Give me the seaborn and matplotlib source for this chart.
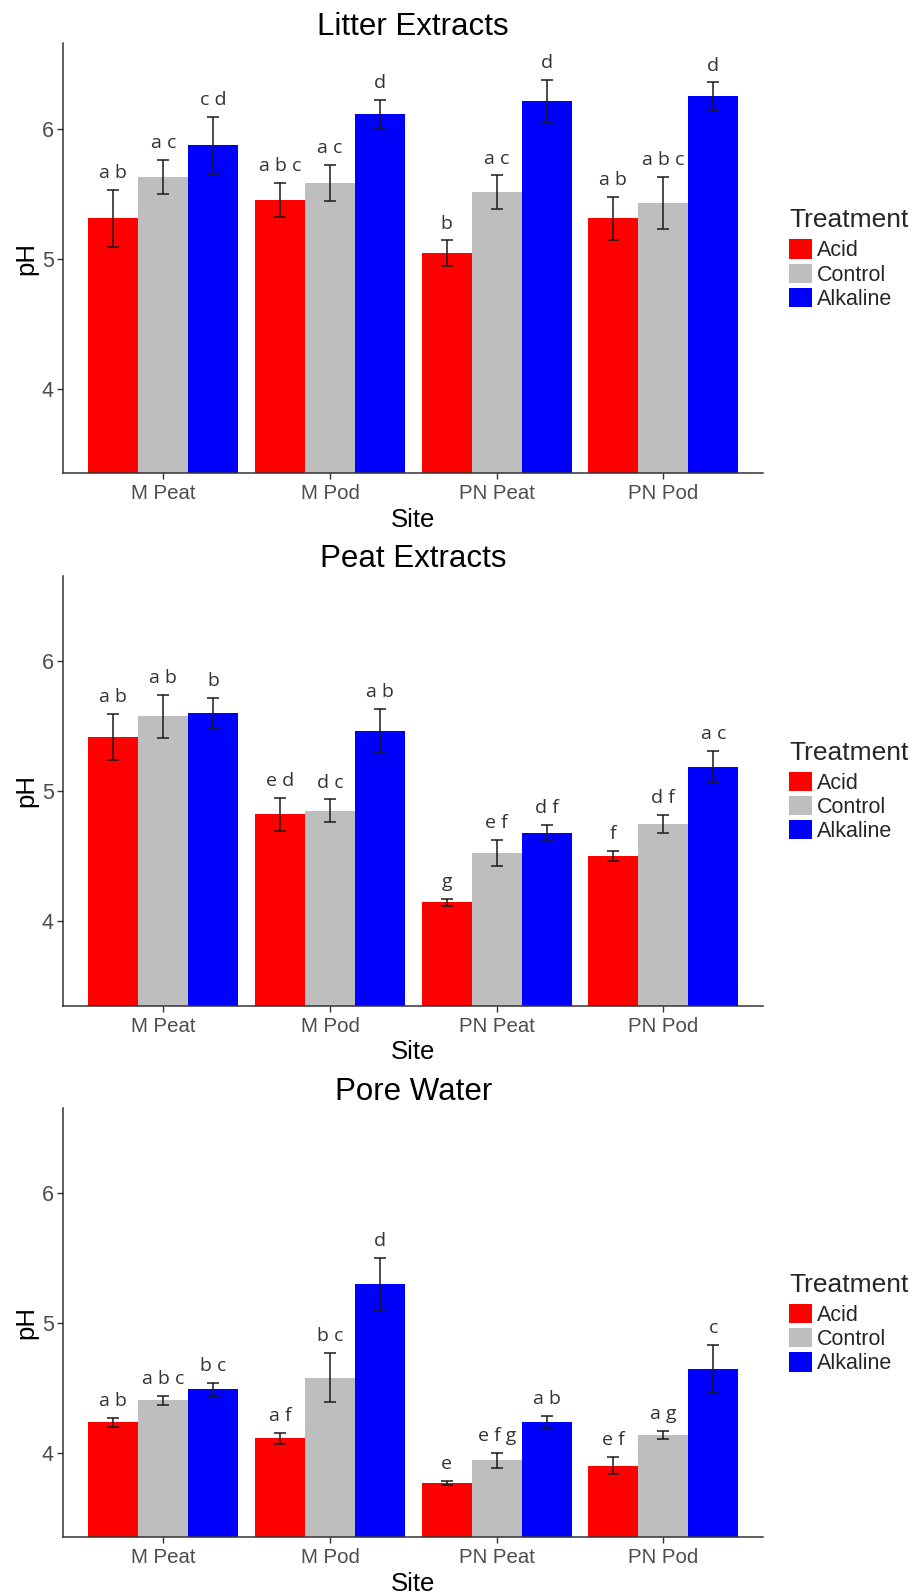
import numpy as np
import pandas as pd
import matplotlib
matplotlib.use("Agg")
import matplotlib.pyplot as plt
import seaborn as sns

sites = ["M Peat", "M Pod", "PN Peat", "PN Pod"]
treatments = ["Acid", "Control", "Alkaline"]
colors = ["#FF0000", "#BEBEBE", "#0000FF"]
panel_titles = ["Litter Extracts", "Peat Extracts", "Pore Water"]

# mean pH per site (rows) x treatment (Acid, Control, Alkaline)
litter_mean = [[5.31, 5.63, 5.87], [5.45, 5.58, 6.11], [5.04, 5.51, 6.21], [5.31, 5.43, 6.25]]
litter_se = [[0.22, 0.13, 0.22], [0.13, 0.14, 0.11], [0.10, 0.13, 0.165], [0.165, 0.20, 0.105]]
litter_letters = [["a b", "a c", "c d"], ["a b c", "a c", "d"], ["b", "a c", "d"], ["a b", "a b c", "d"]]

peat_mean = [[5.415, 5.575, 5.60], [4.82, 4.85, 5.465], [4.145, 4.527, 4.68], [4.50, 4.745, 5.184]]
peat_se = [[0.175, 0.165, 0.115], [0.125, 0.085, 0.165], [0.025, 0.10, 0.057], [0.04, 0.07, 0.125]]
peat_letters = [["a b", "a b", "b"], ["e d", "d c", "a b"], ["g", "e f", "d f"], ["f", "d f", "a c"]]

pore_mean = [[4.237, 4.406, 4.492], [4.112, 4.581, 5.30], [3.768, 3.942, 4.237], [3.903, 4.138, 4.644]]
pore_se = [[0.035, 0.034, 0.05], [0.043, 0.19, 0.20], [0.018, 0.06, 0.047], [0.068, 0.03, 0.186]]
pore_letters = [["a b", "a b c", "b c"], ["a f", "b c", "d"], ["e", "e f g", "a b"], ["e f", "a g", "c"]]

panels = [
    (litter_mean, litter_se, litter_letters),
    (peat_mean, peat_se, peat_letters),
    (pore_mean, pore_se, pore_letters),
]

sns.set_theme(style="white")
plt.rcParams["font.family"] = ["Liberation Sans", "DejaVu Sans"]

W, H = 914, 1593
fig = plt.figure(figsize=(W / 100, H / 100), dpi=100)

# axes boxes in pixels (left, top, right, bottom)
boxes = [(63.3, 43.3, 763.3, 473.3), (63.3, 575.7, 763.3, 1005.7), (63.3, 1108.3, 763.3, 1537.3)]

for (means, ses, letters), title, (l, t, r, b) in zip(panels, panel_titles, boxes):
    ax = fig.add_axes([l / W, 1 - b / H, (r - l) / W, (b - t) / H])
    rows = []
    for si, s in enumerate(sites):
        for ti, tr in enumerate(treatments):
            rows.append({"Site": s, "Treatment": tr, "pH": means[si][ti],
                         "se": ses[si][ti], "label": letters[si][ti]})
    df = pd.DataFrame(rows)
    sns.barplot(data=df, x="Site", y="pH", hue="Treatment", order=sites,
                hue_order=treatments, palette=colors, width=0.9, saturation=1,
                errorbar=None, ax=ax, legend=False, linewidth=0)
    for ti, (tr, cont) in enumerate(zip(treatments, ax.containers)):
        sub = df[df["Treatment"] == tr].set_index("Site").loc[sites]
        xs = [p.get_x() + p.get_width() / 2 for p in cont.patches]
        ax.errorbar(xs, sub["pH"].values, yerr=sub["se"].values, fmt="none",
                    ecolor="#1a1a1a", elinewidth=1.1, capsize=4, capthick=1.1, zorder=5)
        for x, m, e, lab in zip(xs, sub["pH"].values, sub["se"].values, sub["label"].values):
            ax.annotate(lab, (x, m + e), xytext=(0, 8.5), textcoords="offset points",
                        ha="center", va="baseline", fontsize=14, color="#333333",
                        family=["Open Sans", "DejaVu Sans"])
    ax.set_xlim(-0.6, 3.6)
    ax.set_ylim(3.35, 6.655)
    ax.set_yticks([4, 5, 6])
    ax.set_yticklabels(["4", "5", "6"])
    for sp in ["top", "right"]:
        ax.spines[sp].set_visible(False)
    for sp in ["left", "bottom"]:
        ax.spines[sp].set_color("#333333")
        ax.spines[sp].set_linewidth(1.1)
    ax.tick_params(axis="both", which="both", length=4, width=1, color="#333333",
                   labelcolor="#4D4D4D", labelsize=14.7, pad=3,
                   bottom=True, left=True)
    ax.tick_params(axis="x", pad=4)
    ax.tick_params(axis="y", labelsize=15.5)
    ax.set_xlabel("Site", fontsize=18.5, color="black", labelpad=3)
    ax.set_ylabel("pH", fontsize=18.5, color="black", labelpad=2)
    ax.set_title(title, fontsize=22.5, color="black", pad=6)
    handles = [plt.Rectangle((0, 0), 1, 1, facecolor=c, edgecolor="none") for c in colors]
    leg = ax.legend(handles, treatments, title="Treatment", loc="upper left",
                    bbox_to_anchor=(1.037, 0.616), frameon=False, fontsize=15.5,
                    title_fontsize=19, handlelength=1.05, handleheight=1.0,
                    handletextpad=0.25, labelspacing=0.1, borderpad=0,
                    borderaxespad=0, alignment="left")
    leg._legend_box.sep = 5

fig.savefig("out.png", dpi=100)
